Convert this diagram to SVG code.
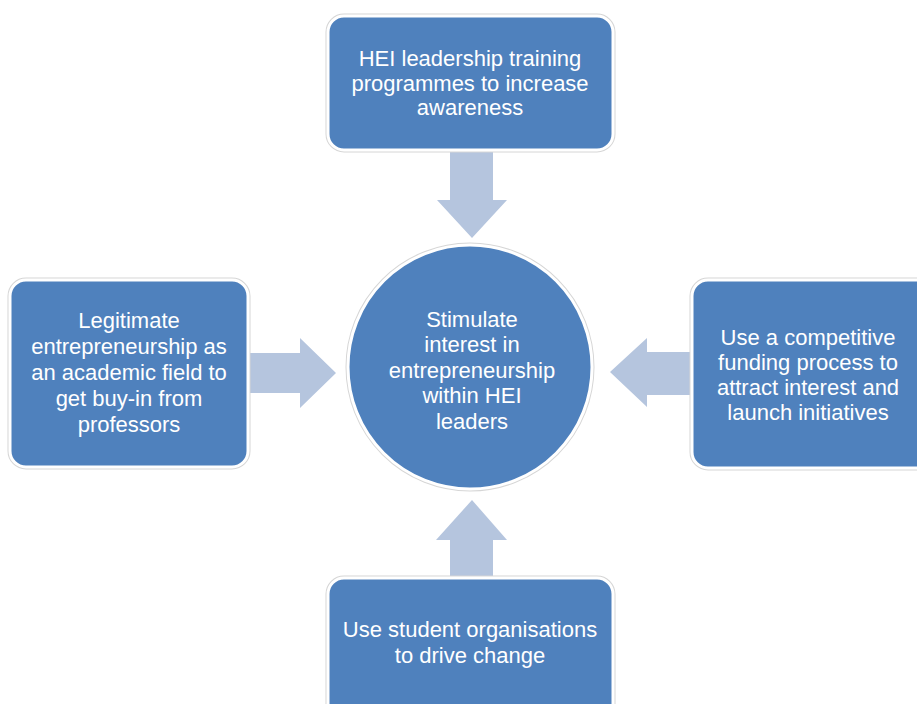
<svg xmlns="http://www.w3.org/2000/svg" width="917" height="704" viewBox="0 0 917 704">
<style>
.box{fill:#4F81BD;stroke:#ffffff;stroke-width:3}
.halo{fill:none;stroke:#d6d6d6;stroke-width:5}
.arr{fill:#B5C5DE}
text{font-family:"Liberation Sans","Open Sans",sans-serif;font-size:22px;fill:#ffffff;text-anchor:middle}
</style>
<rect width="917" height="704" fill="#ffffff"/>
<g id="connectors">
<polygon class="arr" points="450,150 493,150 493,200 507,200 472,238 437,200 450,200"/>
<polygon class="arr" points="248,353 300,353 300,338 336,373 300,408 300,393 248,393"/>
<polygon class="arr" points="692,352 647,352 647,338 610,372 647,407 647,395 692,395"/>
<polygon class="arr" points="450,578 493,578 493,540 507,540 472,500 436,540 450,540"/>
</g>
<g id="top">
<rect class="halo" x="328" y="16" width="285" height="134" rx="16"/>
<rect class="box" x="328" y="16" width="285" height="134" rx="16"/>
<text x="470" y="66">HEI leadership training</text>
<text x="470" y="91">programmes to increase</text>
<text x="470" y="115">awareness</text>
</g>
<g id="left">
<rect class="halo" x="10" y="280" width="238" height="187" rx="16"/>
<rect class="box" x="10" y="280" width="238" height="187" rx="16"/>
<text x="129" y="328">Legitimate</text>
<text x="129" y="354">entrepreneurship as</text>
<text x="129" y="380">an academic field to</text>
<text x="129" y="406">get buy-in from</text>
<text x="129" y="432">professors</text>
</g>
<g id="right">
<rect class="halo" x="692" y="280" width="240" height="188" rx="16"/>
<rect class="box" x="692" y="280" width="240" height="188" rx="16"/>
<text x="808" y="345">Use a competitive</text>
<text x="808" y="370">funding process to</text>
<text x="808" y="395">attract interest and</text>
<text x="808" y="420">launch initiatives</text>
</g>
<g id="bottom">
<rect class="halo" x="328" y="578" width="285" height="150" rx="16"/>
<rect class="box" x="328" y="578" width="285" height="150" rx="16"/>
<text x="470" y="637">Use student organisations</text>
<text x="470" y="663">to drive change</text>
</g>
<g id="center">
<circle class="halo" cx="470" cy="367" r="122"/>
<circle class="box" cx="470" cy="367" r="122"/>
<text x="472" y="327">Stimulate</text>
<text x="472" y="352">interest in</text>
<text x="472" y="378">entrepreneurship</text>
<text x="472" y="403">within HEI</text>
<text x="472" y="429">leaders</text>
</g>
</svg>
